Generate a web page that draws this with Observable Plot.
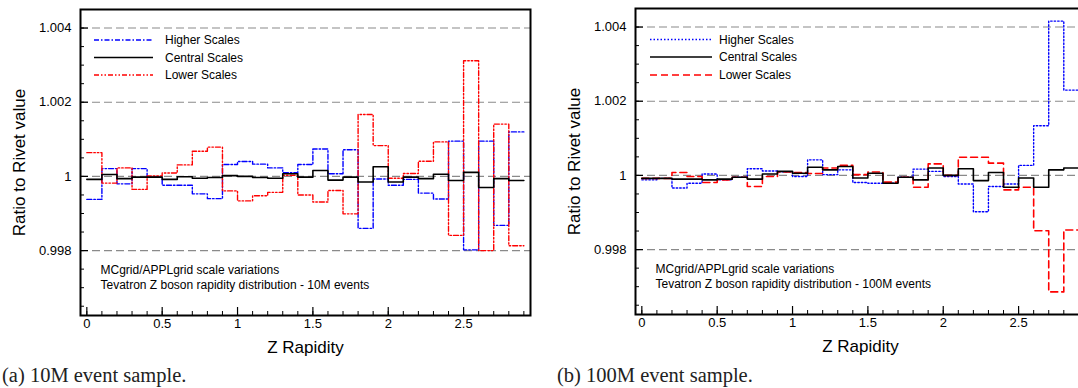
<!DOCTYPE html>
<html><head><meta charset="utf-8">
<script src="https://cdn.jsdelivr.net/npm/d3@7"></script>
<script src="https://cdn.jsdelivr.net/npm/@observablehq/plot@0.6"></script>
<style>
body{margin:0;background:#fff;overflow:hidden}
#wrap{position:relative;width:1078px;height:388px;overflow:hidden;font-family:"Liberation Sans",Arial,sans-serif}
.panel{position:absolute;top:0;height:360px;overflow:hidden}
.panel svg{max-width:none !important;display:block}
.caption{position:absolute;top:363px;line-height:24px;font-family:"Liberation Serif",serif;font-size:20.5px;color:#222;white-space:nowrap}
.legend{position:absolute;top:0;left:0;pointer-events:none}
</style></head>
<body><div id="wrap"></div>
<script>
// ---- data ----
const binEdges = [0,0.1,0.2,0.3,0.4,0.5,0.6,0.7,0.8,0.9,1.0,1.1,1.2,1.3,1.4,1.5,1.6,1.7,1.8,1.9,2.0,2.1,2.2,2.3,2.4,2.5,2.6,2.7,2.8];
const binEnd = 2.9;

const leftHigher  = [0.99938,1.00021,0.99980,1.00021,0.99998,0.99976,0.99976,0.99953,0.99940,1.00032,1.00040,1.00033,1.00023,1.00010,1.00032,1.00074,1.00007,1.00072,0.99860,0.99993,0.99976,0.99992,0.99955,0.99939,1.00095,0.99802,1.00095,0.99868,1.00120];
const leftCentral = [0.99992,1.00005,0.99994,0.99998,0.99998,0.99992,0.99999,0.99995,0.99997,1.00002,1.00000,0.99997,0.99995,1.00007,0.99998,1.00016,0.99990,0.99998,0.99985,1.00026,0.99985,0.99998,0.99994,1.00006,0.99989,1.00011,0.99970,0.99994,0.99989];
const leftLower   = [1.00064,0.99982,1.00023,0.99965,1.00001,1.00009,1.00031,1.00068,1.00079,0.99961,0.99934,0.99948,0.99957,1.00003,0.99950,0.99931,0.99962,0.99899,1.00167,1.00083,0.99995,1.00008,1.00041,1.00093,0.99841,1.00312,0.99800,1.00141,0.99813];

const rightHigher  = [0.99988,0.99992,0.99966,0.99979,1.00004,0.99988,0.99995,1.00018,1.00012,1.00010,0.99997,1.00042,1.00002,1.00015,0.99981,0.99979,0.99979,0.99995,1.00017,1.00011,0.99997,0.99977,0.99902,0.99970,0.99977,1.00027,1.00134,1.00416,1.00230];
const rightCentral = [0.99992,0.99992,0.99990,0.99990,0.99988,0.99990,0.99995,0.99990,1.00004,1.00011,1.00006,1.00022,1.00015,1.00024,0.99993,1.00006,0.99979,0.99995,0.99988,1.00020,1.00000,1.00018,0.99986,1.00008,0.99968,0.99993,0.99968,1.00015,1.00020];
const rightLower   = [0.99992,0.99992,1.00008,0.99997,0.99981,0.99988,0.99995,0.99970,0.99997,1.00009,1.00008,1.00005,1.00020,1.00027,1.00002,1.00009,0.99982,0.99995,0.99968,1.00031,1.00000,1.00049,1.00049,1.00033,0.99961,0.99968,0.99851,0.99686,0.99853];

const xMajor = [0,0.5,1,1.5,2,2.5];
const xLabels = ["0","0.5","1","1.5","2","2.5"];
const xMinor = [0,0.1,0.2,0.3,0.4,0.5,0.6,0.7,0.8,0.9,1.0,1.1,1.2,1.3,1.4,1.5,1.6,1.7,1.8,1.9,2.0,2.1,2.2,2.3,2.4,2.5,2.6,2.7,2.8,2.9];
const yMajor = [0.998,1,1.002,1.004];
const yLabels = ["0.998","1","1.002","1.004"];
const yMinor = [0.9965,0.997,0.9975,0.998,0.9985,0.999,0.9995,1,1.0005,1.001,1.0015,1.002,1.0025,1.003,1.0035,1.004];
const gridValues = [0.998,1,1.002,1.004];
const seriesNames = ["Higher Scales","Central Scales","Lower Scales"];
const xDomain = [-0.042, 2.944];
const yDomain = [0.99625, 1.0045];
const xTitle = "Z Rapidity";
const yTitle = "Ratio to Rivet value";
const noteLeft = "MCgrid/APPLgrid scale variations\nTevatron Z boson rapidity distribution - 10M events";
const noteRight = "MCgrid/APPLgrid scale variations\nTevatron Z boson rapidity distribution - 100M events";
const captionLeft = "(a) 10M event sample.";
const captionRight = "(b) 100M event sample.";

// ---- styles ----
const stylesLeft = {
  "Higher Scales": {color:"#0000ff", width:1.4, dash:"5,2,1.5,2"},
  "Central Scales": {color:"#000000", width:1.6, dash:null},
  "Lower Scales": {color:"#ff0000", width:1.4, dash:"5,2,1.5,2,1.5,2"}
};
const stylesRight = {
  "Higher Scales": {color:"#0000ff", width:1.4, dash:"1.5,2"},
  "Central Scales": {color:"#000000", width:1.6, dash:null},
  "Lower Scales": {color:"#ff0000", width:1.6, dash:"7,4"}
};

const fontFamily = "'Liberation Sans', Arial, Helvetica, sans-serif";
const W = 540, H = 360, ML = 80, MR = 10;

function steps(values) {
  const pts = binEdges.map((x, i) => ({x, y: values[i]}));
  pts.push({x: binEnd, y: values[values.length - 1]});
  return pts;
}

function makePanel(vals, styles, note, top, bottom) {
  const plotW = W - ML - MR, plotH = bottom - top;
  const xFmt = new Map(xMajor.map((d, i) => [d, xLabels[i]]));
  const yFmt = new Map(yMajor.map((d, i) => [d, yLabels[i]]));
  const order = ["Higher Scales", "Lower Scales", "Central Scales"];
  const lines = order.map(name => {
    const s = styles[name];
    return Plot.line(steps(vals[name]), {x: "x", y: "y", curve: "step-after",
      stroke: s.color, strokeWidth: s.width, strokeDasharray: s.dash || undefined});
  });
  return Plot.plot({
    width: W, height: H, marginLeft: ML, marginRight: MR, marginTop: top, marginBottom: H - bottom,
    x: {domain: xDomain}, y: {domain: yDomain},
    style: {fontFamily, background: "white", color: "black", overflow: "visible", maxWidth: "none"},
    marks: [
      Plot.ruleY(gridValues, {y: d => d, stroke: "#8a8a8a", strokeDasharray: "8,4", strokeWidth: 1.1}),
      ...lines,
      Plot.tickX(xMinor, {x: d => d, insetTop: plotH - 4, stroke: "black", strokeWidth: 1}),
      Plot.tickX(xMajor, {x: d => d, insetTop: plotH - 8, stroke: "black", strokeWidth: 1.2}),
      Plot.tickY(yMinor, {y: d => d, insetRight: plotW - 4, stroke: "black", strokeWidth: 1}),
      Plot.tickY(yMajor, {y: d => d, insetRight: plotW - 8, stroke: "black", strokeWidth: 1.2}),
      Plot.axisX({ticks: xMajor, tickSize: 0, tickPadding: 3, fontSize: 13, tickFormat: d => xFmt.get(d), label: null}),
      Plot.axisX({ticks: [], tickSize: 0, label: xTitle, labelArrow: "none", labelAnchor: "center", labelOffset: 37, fontSize: 17}),
      Plot.axisY({ticks: yMajor, tickSize: 0, tickPadding: 9, fontSize: 13, tickFormat: d => yFmt.get(d), label: null}),
      Plot.axisY({ticks: [], tickSize: 0, label: yTitle, labelArrow: "none", labelAnchor: "center", labelOffset: 68, fontSize: 17}),
      Plot.text([note], {text: d => d, frameAnchor: "bottom-left", dx: 20, dy: -38.5, textAnchor: "start",
        lineAnchor: "middle", fontSize: 12, lineHeight: 1.25, fill: "black"}),
      Plot.frame({stroke: "black", strokeWidth: 2})
    ]
  });
}

function legend(styles, lineX1, lineX2, textX, rows) {
  const svg = d3.create("svg").attr("class", "legend").attr("width", W).attr("height", 100);
  seriesNames.forEach((name, i) => {
    const s = styles[name];
    svg.append("line").attr("x1", lineX1).attr("x2", lineX2).attr("y1", rows[i]).attr("y2", rows[i])
      .attr("stroke", s.color).attr("stroke-width", s.width).attr("stroke-dasharray", s.dash);
    svg.append("text").attr("x", textX).attr("y", rows[i]).attr("dy", "0.35em")
      .attr("font-family", fontFamily).attr("font-size", 12).attr("fill", "black").text(name);
  });
  return svg.node();
}

const wrap = document.getElementById("wrap");

const pL = document.createElement("div");
pL.className = "panel"; pL.style.left = "0px"; pL.style.width = W + "px";
pL.appendChild(makePanel({"Higher Scales": leftHigher, "Central Scales": leftCentral, "Lower Scales": leftLower}, stylesLeft, noteLeft, 9, 315));
pL.appendChild(legend(stylesLeft, 94, 153, 165, [40, 57.5, 75]));
wrap.appendChild(pL);

const pR = document.createElement("div");
pR.className = "panel"; pR.style.left = "555px"; pR.style.width = (1078 - 555) + "px";
pR.appendChild(makePanel({"Higher Scales": rightHigher, "Central Scales": rightCentral, "Lower Scales": rightLower}, stylesRight, noteRight, 8, 314));
pR.appendChild(legend(stylesRight, 95, 157, 164, [39.5, 57, 75]));
wrap.appendChild(pR);

const cL = document.createElement("div");
cL.className = "caption"; cL.style.left = "2px"; cL.textContent = captionLeft;
wrap.appendChild(cL);
const cR = document.createElement("div");
cR.className = "caption"; cR.style.left = "557px"; cR.textContent = captionRight;
wrap.appendChild(cR);
</script>
</body></html>
